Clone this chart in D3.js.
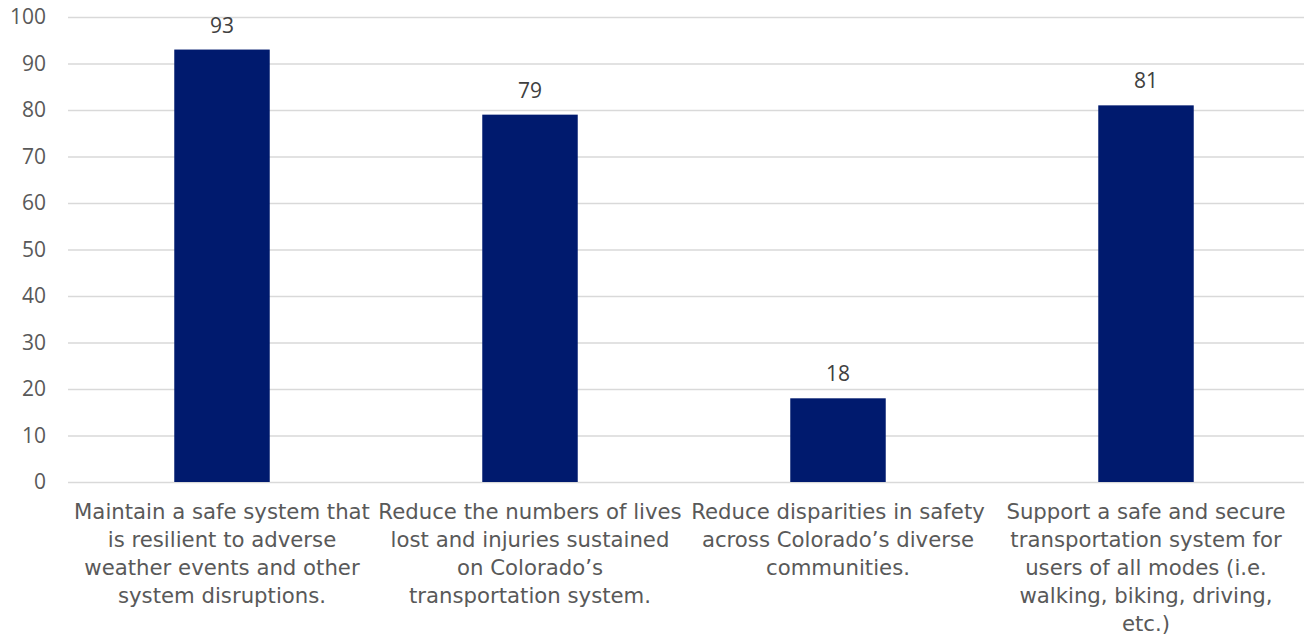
<!DOCTYPE html>
<html><head><meta charset="utf-8">
<script src="https://cdn.jsdelivr.net/npm/d3@7"></script>
<style>body{margin:0;background:#fff}</style>
</head><body>
<svg id="chart" width="1304" height="637"></svg>
<script>
const categories = [
  ["Maintain a safe system that","is resilient to adverse","weather events and other","system disruptions."],
  ["Reduce the numbers of lives","lost and injuries sustained","on Colorado\u2019s","transportation system."],
  ["Reduce disparities in safety","across Colorado\u2019s diverse","communities."],
  ["Support a safe and secure","transportation system for","users of all modes (i.e.","walking, biking, driving,","etc.)"]
];
const values = [93, 79, 18, 81];
const yTicks = [0,10,20,30,40,50,60,70,80,90,100];

(function(){
const svg = d3.select("#chart");
const mLeft = 68, mRight = 1300, mTop = 17, mBottom = 482;
const x = d3.scaleBand().domain(d3.range(categories.length)).range([mLeft, mRight]).paddingInner(0.69).paddingOuter(0.345);
const y = d3.scaleLinear().domain([0,100]).range([mBottom, mTop]);

const yAxis = d3.axisLeft(y).tickValues(yTicks).tickSize(-(1304-mLeft)).tickPadding(22);
const gy = svg.append("g").attr("transform", `translate(${mLeft},0)`).call(yAxis);
gy.select(".domain").remove();
gy.selectAll(".tick line").attr("stroke", "#d9d9d9").attr("stroke-width", 1.5);
gy.selectAll(".tick text").attr("fill", "#595959").style("font-family", "'Open Sans', sans-serif").style("font-size", "21px");

svg.append("g").selectAll("rect").data(values).join("rect")
  .attr("x", (d,i) => x(i)).attr("width", x.bandwidth())
  .attr("y", d => y(d)).attr("height", d => y(0) - y(d))
  .attr("fill", "#001a6e");

svg.append("g").selectAll("text").data(values).join("text")
  .attr("x", (d,i) => x(i) + x.bandwidth()/2).attr("y", d => y(d) - 17)
  .attr("text-anchor", "middle").attr("fill", "#404040")
  .style("font-family", "'Open Sans', sans-serif").style("font-size", "21px")
  .text(d => d);

const xl = svg.append("g");
const texts = [];
categories.forEach((lines, i) => {
  const t = xl.append("text").attr("text-anchor", "middle").attr("fill", "#595959")
    .style("font-family", "'DejaVu Sans', sans-serif").style("font-size", "20px");
  lines.forEach((ln, j) => {
    t.append("tspan").attr("x", x(i) + x.bandwidth()/2).attr("y", 519 + j*28).text(ln);
  });
  texts.push(t);
});
// fit font size so first line of first label is ~296px wide
const w = texts[0].select("tspan").node().getComputedTextLength();
const fs = 20 * 296 / w;
texts.forEach(t => t.style("font-size", fs + "px"));
})();
</script>
</body></html>
